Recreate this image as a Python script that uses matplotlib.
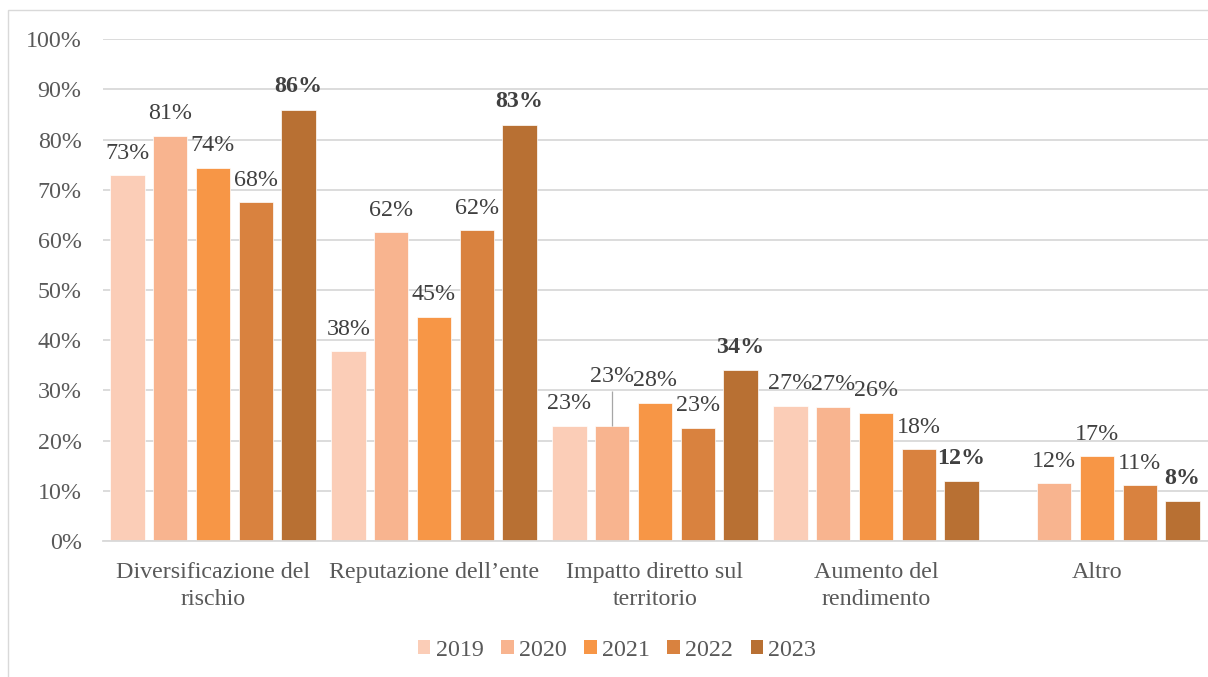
import matplotlib
matplotlib.use("Agg")
import matplotlib.pyplot as plt
import numpy as np
from matplotlib.patches import Rectangle, Patch

# Data
categories = ["Diversificazione del\nrischio", "Reputazione dell\u2019ente",
              "Impatto diretto sul\nterritorio", "Aumento del\nrendimento", "Altro"]
years = ["2019", "2020", "2021", "2022", "2023"]
v2019 = [73.0, 37.9, 23.0, 27.0, np.nan]
v2020 = [80.8, 61.6, 23.0, 26.8, 11.6]
v2021 = [74.4, 44.7, 27.6, 25.6, 16.9]
v2022 = [67.6, 61.9, 22.6, 18.3, 11.1]
v2023 = [86.0, 83.0, 34.0, 11.9, 7.9]
series = [v2019, v2020, v2021, v2022, v2023]
colors = ["#FBCDB7", "#F8B48F", "#F79646", "#D9823F", "#B87033"]

W, H = 1208, 677
fig = plt.figure(figsize=(W / 100, H / 100), dpi=100)
SERIF = ["Liberation Serif", "DejaVu Serif"]
FS = 17.3
TXT = "#595959"
LBL = "#404040"
GRID = "#D9D9D9"

# outer chart frame
fig.patches.append(Rectangle((8 / W, -0.1), 1.2, (H - 10) / H + 0.1,
                             transform=fig.transFigure, fill=False,
                             edgecolor=GRID, linewidth=1.0))

ax_left, ax_right = 102.5, 1207.5
ax_bottom, ax_top = 541, 39.3
ax = fig.add_axes([ax_left / W, (H - ax_bottom) / H,
                   (ax_right - ax_left) / W, (ax_bottom - ax_top) / H])

n = len(series)
pitch = 42.8 / 221
width = 34.5 / 221
x = np.arange(len(categories))

for j, (vals, col) in enumerate(zip(series, colors)):
    xs = x + (j - (n - 1) / 2) * pitch
    ax.bar(xs, vals, width=width, color=col, edgecolor="white",
           linewidth=0.5, zorder=3, label=years[j])
    for i, (xi, v) in enumerate(zip(xs, vals)):
        if np.isnan(v):
            continue
        bold = j == n - 1
        dy = 12.5 if bold else 11.7
        if j == 1 and i == 2:
            # label pulled upward with a leader line
            dy = 31.5
            ax.plot([xi, xi], [v, v + 35 / 5.017], color="#A6A6A6",
                    linewidth=0.9, zorder=4, solid_capstyle="butt")
        ax.annotate(f"{v:.0f}%", xy=(xi, v), xytext=(0, dy),
                    textcoords="offset points", ha="center", va="baseline",
                    fontsize=FS, family=SERIF, color=LBL,
                    fontweight="bold" if bold else "normal", zorder=5)

ax.set_xlim(-0.5, len(categories) - 0.5)
ax.set_ylim(0, 100)
ax.set_yticks(np.arange(0, 101, 10))
ax.set_yticklabels([f"{t}%" for t in range(0, 101, 10)],
                   family=SERIF, fontsize=FS, color=TXT)
ax.set_xticks(x)
ax.set_xticklabels(categories, family=SERIF, fontsize=FS, color=TXT,
                   linespacing=1.36)
ax.tick_params(axis="y", length=0, pad=15.0)
ax.tick_params(axis="x", length=0, pad=15.0)
ax.yaxis.grid(True, color=GRID, linewidth=1.3, zorder=0)
ax.set_axisbelow(True)
for s in ["top", "right", "left"]:
    ax.spines[s].set_visible(False)
ax.spines["bottom"].set_color(GRID)
ax.spines["bottom"].set_linewidth(1.3)
ax.spines["bottom"].set_zorder(4)

handles = [Patch(facecolor=c, edgecolor="none", label=y) for c, y in zip(colors, years)]
fig.legend(handles=handles, loc="center", bbox_to_anchor=(617 / W, 1 - 650 / H),
           ncol=5, frameon=False, prop={"family": SERIF, "size": FS},
           labelcolor=TXT, handlelength=0.52, handleheight=0.52,
           handletextpad=0.21, columnspacing=0.74, borderpad=0, borderaxespad=0)

fig.savefig("out.png", dpi=100)
